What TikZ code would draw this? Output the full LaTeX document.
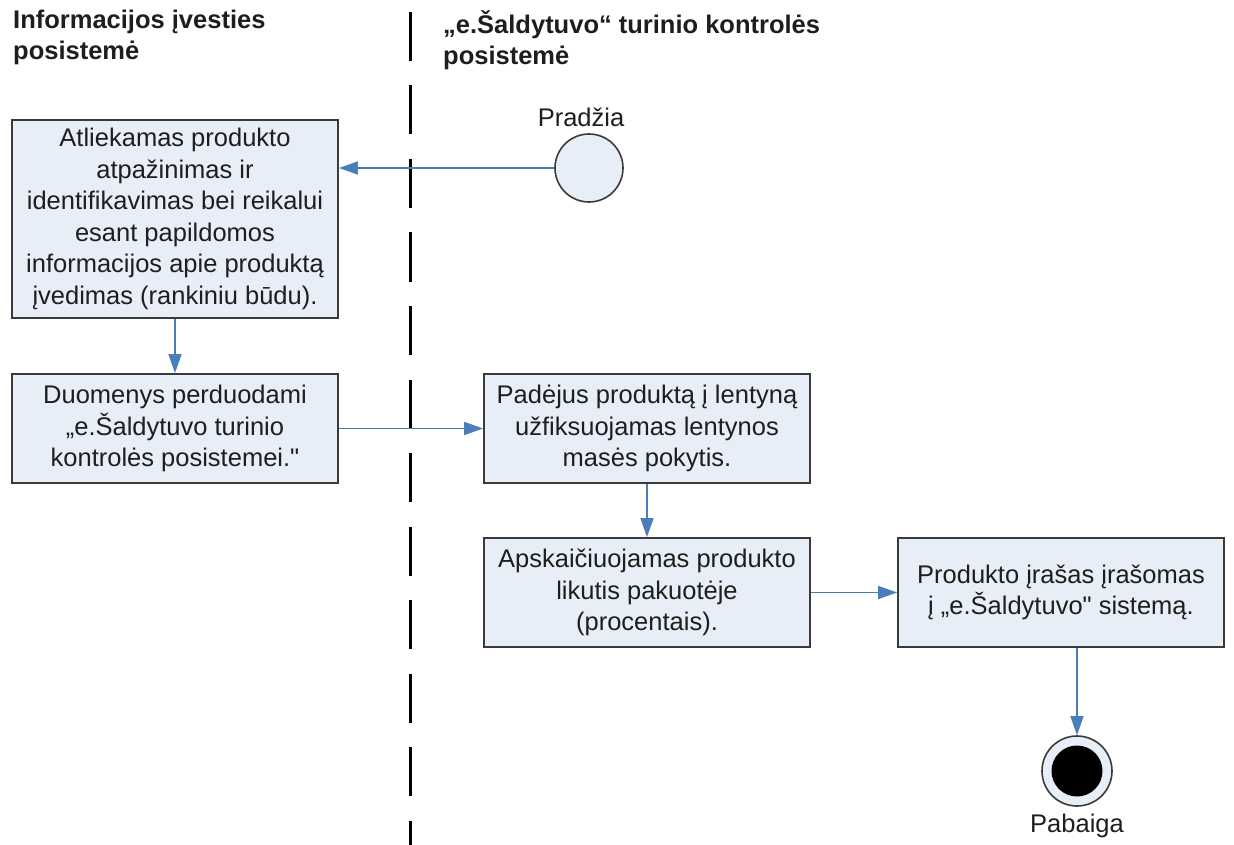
\documentclass[tikz,border=0pt]{standalone}
\usepackage{fontspec}
\setmainfont{Liberation Sans}[Ligatures=TeXOff]
\usetikzlibrary{arrows.meta}
\definecolor{boxfill}{HTML}{E8EEF7}
\definecolor{boxline}{HTML}{3A3A3A}
\definecolor{flow}{HTML}{4A7EBB}
\definecolor{ink}{HTML}{1E1E1E}
\begin{document}
\begin{tikzpicture}[x=1pt,y=-1pt,
  every node/.style={text=ink,font=\fontsize{25.5}{31.5}\selectfont},
  actbox/.style={draw=boxline,line width=1.8pt,fill=boxfill,rectangle,
    minimum width=326pt,inner sep=0pt,align=center},
  flowarrow/.style={draw=flow,line width=1.6pt,
    -{Triangle[length=19pt,width=13pt]}},
  lane/.style={line width=3pt,dash pattern=on 49pt off 24.5pt},
  header/.style={anchor=north west,align=left,inner sep=0pt,
    font=\fontsize{25.5}{31}\selectfont\bfseries}]
\useasboundingbox (0,0) rectangle (1234,845);

% swimlane separator and lane titles
\coordinate (laneTop) at (410,12);
\coordinate (laneBottom) at (410,845);
\draw[lane] (laneTop) -- (laneBottom);
\node[header] (leftTitle) at (13,10) {Informacijos įvesties\\posistemė};
\node[header] (rightTitle) at (443,10) {„e.Šaldytuvo“ turinio kontrolės\\posistemė};

% start and end states
\node[circle,draw=boxline,line width=1.6pt,fill=boxfill,minimum size=68pt,inner sep=0pt]
  (start) at (589,168) {};
\node[inner sep=0pt] (startLabel) at (581,117) {Pradžia};
\node[circle,draw=boxline,line width=1.6pt,fill=boxfill,minimum size=70pt,inner sep=0pt]
  (finish) at (1077,771) {};
\node[circle,fill=black,minimum size=51pt,inner sep=0pt] (finishDot) at (finish) {};
\node[inner sep=0pt] (finishLabel) at (1077,826) {Pabaiga};

% activities
\node[actbox,minimum height=198pt] (recognize) at (175,219)
  {Atliekamas produkto\\atpažinimas ir\\identifikavimas bei reikalui\\esant papildomos\\informacijos apie produktą\\įvedimas (rankiniu būdu).};
\node[actbox,minimum height=109pt] (transfer) at (175,428.5)
  {Duomenys perduodami\\„e.Šaldytuvo turinio\\kontrolės posistemei."};
\node[actbox,minimum height=109pt] (weigh) at (647,428.5)
  {Padėjus produktą į lentyną\\užfiksuojamas lentynos\\masės pokytis.};
\node[actbox,minimum height=109pt] (compute) at (647,592.5)
  {Apskaičiuojamas produkto\\likutis pakuotėje\\(procentais).};
\node[actbox,minimum height=109pt] (record) at (1061,592.5)
  {Produkto įrašas įrašomas\\į „e.Šaldytuvo" sistemą.};

% control flow
\draw[flowarrow] (start.west) -- (recognize.east |- start.west);
\draw[flowarrow] (recognize.south) -- (transfer.north);
\draw[flowarrow] (transfer.east) -- (weigh.west);
\draw[flowarrow] (weigh.south) -- (compute.north);
\draw[flowarrow] (compute.east) -- (record.west);
\draw[flowarrow] (finish.north |- record.south) -- (finish.north);
\end{tikzpicture}
\end{document}
